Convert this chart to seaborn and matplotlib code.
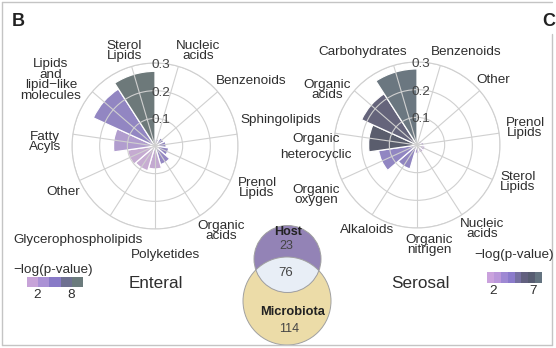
import numpy as np
import pandas as pd
import matplotlib
matplotlib.use("Agg")
import matplotlib.pyplot as plt
from matplotlib.colors import LinearSegmentedColormap, Normalize
from matplotlib.patches import Circle
import seaborn as sns

# ---------------- data ----------------
enteral_classes = ["Nucleic\nacids", "Benzenoids", "Sphingolipids", "Prenol\nLipids",
                   "Organic\nacids", "Polyketides", "Glycerophospholipids", "Other",
                   "Fatty\nAcyls", "Lipids\nand\nlipid\u2212like\nmolecules", "Sterol\nLipids"]
enteral_ratio = [0.025, 0.035, 0.040, 0.050, 0.070, 0.083, 0.093, 0.100, 0.150, 0.245, 0.270]
enteral_logp = [5.1, 5.2, 5.0, 5.0, 4.7, 1.3, 1.0, 1.1, 2.8, 4.9, 9.2]

serosal_classes = ["Benzenoids", "Other", "Prenol\nLipids", "Sterol\nLipids", "Nucleic\nacids",
                   "Organic\nnitrigen", "Alkaloids", "Organic\noxygen", "Organic\nheterocyclic",
                   "Organic\nacids", "Carbohydrates"]
serosal_ratio = [0.015, 0.020, 0.025, 0.030, 0.030, 0.030, 0.090, 0.140, 0.175, 0.220, 0.275]
serosal_logp = [2.5, 2.3, 2.8, 2.5, 2.2, 3.0, 4.3, 4.2, 6.7, 6.0, 7.9]

radial_ticks = [0.1, 0.2, 0.3]
radial_labels = ["0.1", "0.2", "0.3"]
venn_sets = ["Host", "Microbiota"]
venn_counts = [23, 76, 114]        # host only, shared, microbiota only
cbar_ticks_left = [2, 8]
cbar_ticks_right = [2, 7]

# ---------------- layout (pixels) ----------------
W, H = 556, 348
TXT = "#2e2e2e"
GRID = "#d0d0d0"

enteral_label_pos = {
    "Nucleic\nacids": (198, 51), "Benzenoids": (251, 81), "Sphingolipids": (281, 120),
    "Prenol\nLipids": (257, 188), "Organic\nacids": (221, 231), "Polyketides": (165, 255),
    "Glycerophospholipids": (78, 240), "Other": (63, 192), "Fatty\nAcyls": (45, 142),
    "Lipids\nand\nlipid\u2212like\nmolecules": (51, 80), "Sterol\nLipids": (124.5, 51)}
serosal_label_pos = {
    "Benzenoids": (466, 52), "Other": (493, 80), "Prenol\nLipids": (525, 128),
    "Sterol\nLipids": (518, 182), "Nucleic\nacids": (482, 229), "Organic\nnitrigen": (429, 245),
    "Alkaloids": (367, 230), "Organic\noxygen": (316, 195), "Organic\nheterocyclic": (316, 147),
    "Organic\nacids": (327, 90), "Carbohydrates": (363, 52)}

sns.set_style("white")
plt.rcParams["font.family"] = ["Liberation Sans", "DejaVu Sans"]

fig = plt.figure(figsize=(W / 100, H / 100), dpi=100)
bg = fig.add_axes([0, 0, 1, 1])
bg.set_xlim(0, W)
bg.set_ylim(H, 0)
bg.axis("off")


def px(x, y):
    return x / W, 1 - y / H


cmap_left = LinearSegmentedColormap.from_list(
    "ent", [(0.0, "#d6b0dc"), (0.1, "#c9a5d8"), (0.3, "#ad93d6"), (0.5, "#8a7bcb"),
            (0.7, "#6e6f93"), (0.9, "#6b7b7c"), (1.0, "#6b7d7d")])
norm_left = Normalize(0, 10)
cmap_right = LinearSegmentedColormap.from_list(
    "ser", [(0.0, "#d2a8de"), (0.18, "#bb98da"), (0.33, "#9a86d2"), (0.44, "#8a7bcb"),
            (0.57, "#75709f"), (0.69, "#62607f"), (0.80, "#565a70"), (1.0, "#6a7d86")])
norm_right = Normalize(1.25, 8.1)


def polar_panel(cx, cy, classes, ratio, logp, cmap, norm, label_pos, tick_x):
    R = 83
    ax = fig.add_axes([(cx - R) / W, (H - cy - R) / H, 2 * R / W, 2 * R / H], projection="polar")
    n = len(classes)
    step = 2 * np.pi / n
    theta = (np.arange(n) + 0.5) * step
    df = pd.DataFrame({"theta": theta, "ratio": ratio, "cls": classes})
    pal = {c: cmap(norm(v)) for c, v in zip(classes, logp)}
    sns.barplot(data=df, x="theta", y="ratio", hue="cls", palette=pal, native_scale=True,
                width=1.0, dodge=False, errorbar=None, legend=False,
                edgecolor="white", linewidth=0.9, ax=ax)
    ax.set_theta_zero_location("N")
    ax.set_theta_direction(-1)
    ax.set_xlim(0, 2 * np.pi)
    ax.set_ylim(0, 0.3)
    ax.set_xticks(theta)
    ax.set_xticklabels([])
    ax.set_yticks(radial_ticks)
    ax.set_yticklabels([])
    ax.set_xlabel("")
    ax.set_ylabel("")
    ax.grid(True, color=GRID, lw=0.8)
    ax.set_axisbelow(False)
    ax.spines["polar"].set_color(GRID)
    ax.spines["polar"].set_linewidth(0.8)
    ax.set_facecolor("none")
    for c in classes:
        x, y = label_pos[c]
        ls = 1.35 if "heterocyclic" in c else 0.88
        fig.text(*px(x, y), c, ha="center", va="center", multialignment="center",
                 fontsize=9.7, color=TXT, linespacing=ls)
    for r, lab in zip(radial_ticks, radial_labels):
        fig.text(*px(tick_x, cy - r * R / 0.3 + 2), lab, ha="center", va="center",
                 fontsize=9.7, color="#444444")
    return ax


polar_panel(155, 146, enteral_classes, enteral_ratio, enteral_logp, cmap_left, norm_left,
            enteral_label_pos, 161)
polar_panel(417, 145, serosal_classes, serosal_ratio, serosal_logp, cmap_right, norm_right,
            serosal_label_pos, 421)

# panel titles
fig.text(*px(156, 283), "Enteral", ha="center", va="center", fontsize=12.3, color=TXT)
fig.text(*px(420, 284), "Serosal", ha="center", va="center", fontsize=12.3, color=TXT)
fig.text(*px(18.5, 21.5), "B", ha="center", va="center", fontsize=13, fontweight="bold", color="#222222")
fig.text(*px(555.5, 21.5), "C", ha="right", va="center", fontsize=13, fontweight="bold", color="#222222")


# colour legends
def color_legend(x0, y0, x1, y1, nblocks, vmin, vmax, cmap, norm, ticks, title, title_xy):
    cax = fig.add_axes([x0 / W, 1 - y1 / H, (x1 - x0) / W, (y1 - y0) / H])
    edges = np.linspace(vmin, vmax, nblocks + 1)
    centers = (edges[:-1] + edges[1:]) / 2
    sns.heatmap(centers[None, :], cmap=cmap, vmin=norm.vmin, vmax=norm.vmax, cbar=False,
                xticklabels=False, yticklabels=False, linewidths=0, ax=cax)
    for t in ticks:
        tx = x0 + (t - vmin) / (vmax - vmin) * (x1 - x0)
        fig.text(*px(tx, y1 + 8), str(t), ha="center", va="center", fontsize=9.7, color=TXT)
    fig.text(*px(*title_xy), title, ha="center", va="center", fontsize=9.7, color=TXT)


color_legend(27, 277, 83, 287, 5, 0.2, 10.1, cmap_left, norm_left, cbar_ticks_left,
             "\u2212log(p-value)", (53, 270))
color_legend(487, 272, 542, 283, 8, 1.25, 8.1, cmap_right, norm_right, cbar_ticks_right,
             "\u2212log(p-value)", (514, 255))

# Venn diagram
mic_c, mic_r = (287, 301), 44
host_c, host_r = (287.5, 259), 33.5
mic = Circle(mic_c, mic_r, fc="#ecdca8", ec="none")
host = Circle(host_c, host_r, fc="#9383b6", ec="none")
bg.add_patch(mic)
bg.add_patch(host)
inter = Circle(host_c, host_r, fc="#e8eef6", ec="none")
bg.add_patch(inter)
inter.set_clip_path(mic)
bg.add_patch(Circle(mic_c, mic_r, fc="none", ec="#a0a0a0", lw=0.7))
bg.add_patch(Circle(host_c, host_r, fc="none", ec="#a0a0a0", lw=0.7))
bg.text(288.5, 232, venn_sets[0], ha="center", va="center", fontsize=9, fontweight="bold", color="#222222")
bg.text(286, 246, str(venn_counts[0]), ha="center", va="center", fontsize=9, color="#444444")
bg.text(286, 273, str(venn_counts[1]), ha="center", va="center", fontsize=9.5, color="#444444")
bg.text(293, 312, venn_sets[1], ha="center", va="center", fontsize=9.3, fontweight="bold", color="#222222")
bg.text(289, 329, str(venn_counts[2]), ha="center", va="center", fontsize=9, color="#444444")

# frame (right edge leaves room for the next panel letter)
fc = "#c4c4c4"
bg.plot([1.5, 551.5], [1.5, 1.5], color=fc, lw=1.0)
bg.plot([1.5, 551.5], [345, 345], color=fc, lw=1.0)
bg.plot([1.5, 1.5], [1.5, 345], color=fc, lw=1.0)
bg.plot([551.5, 551.5], [34, 345], color=fc, lw=1.0)

fig.savefig("out.png", dpi=100)
